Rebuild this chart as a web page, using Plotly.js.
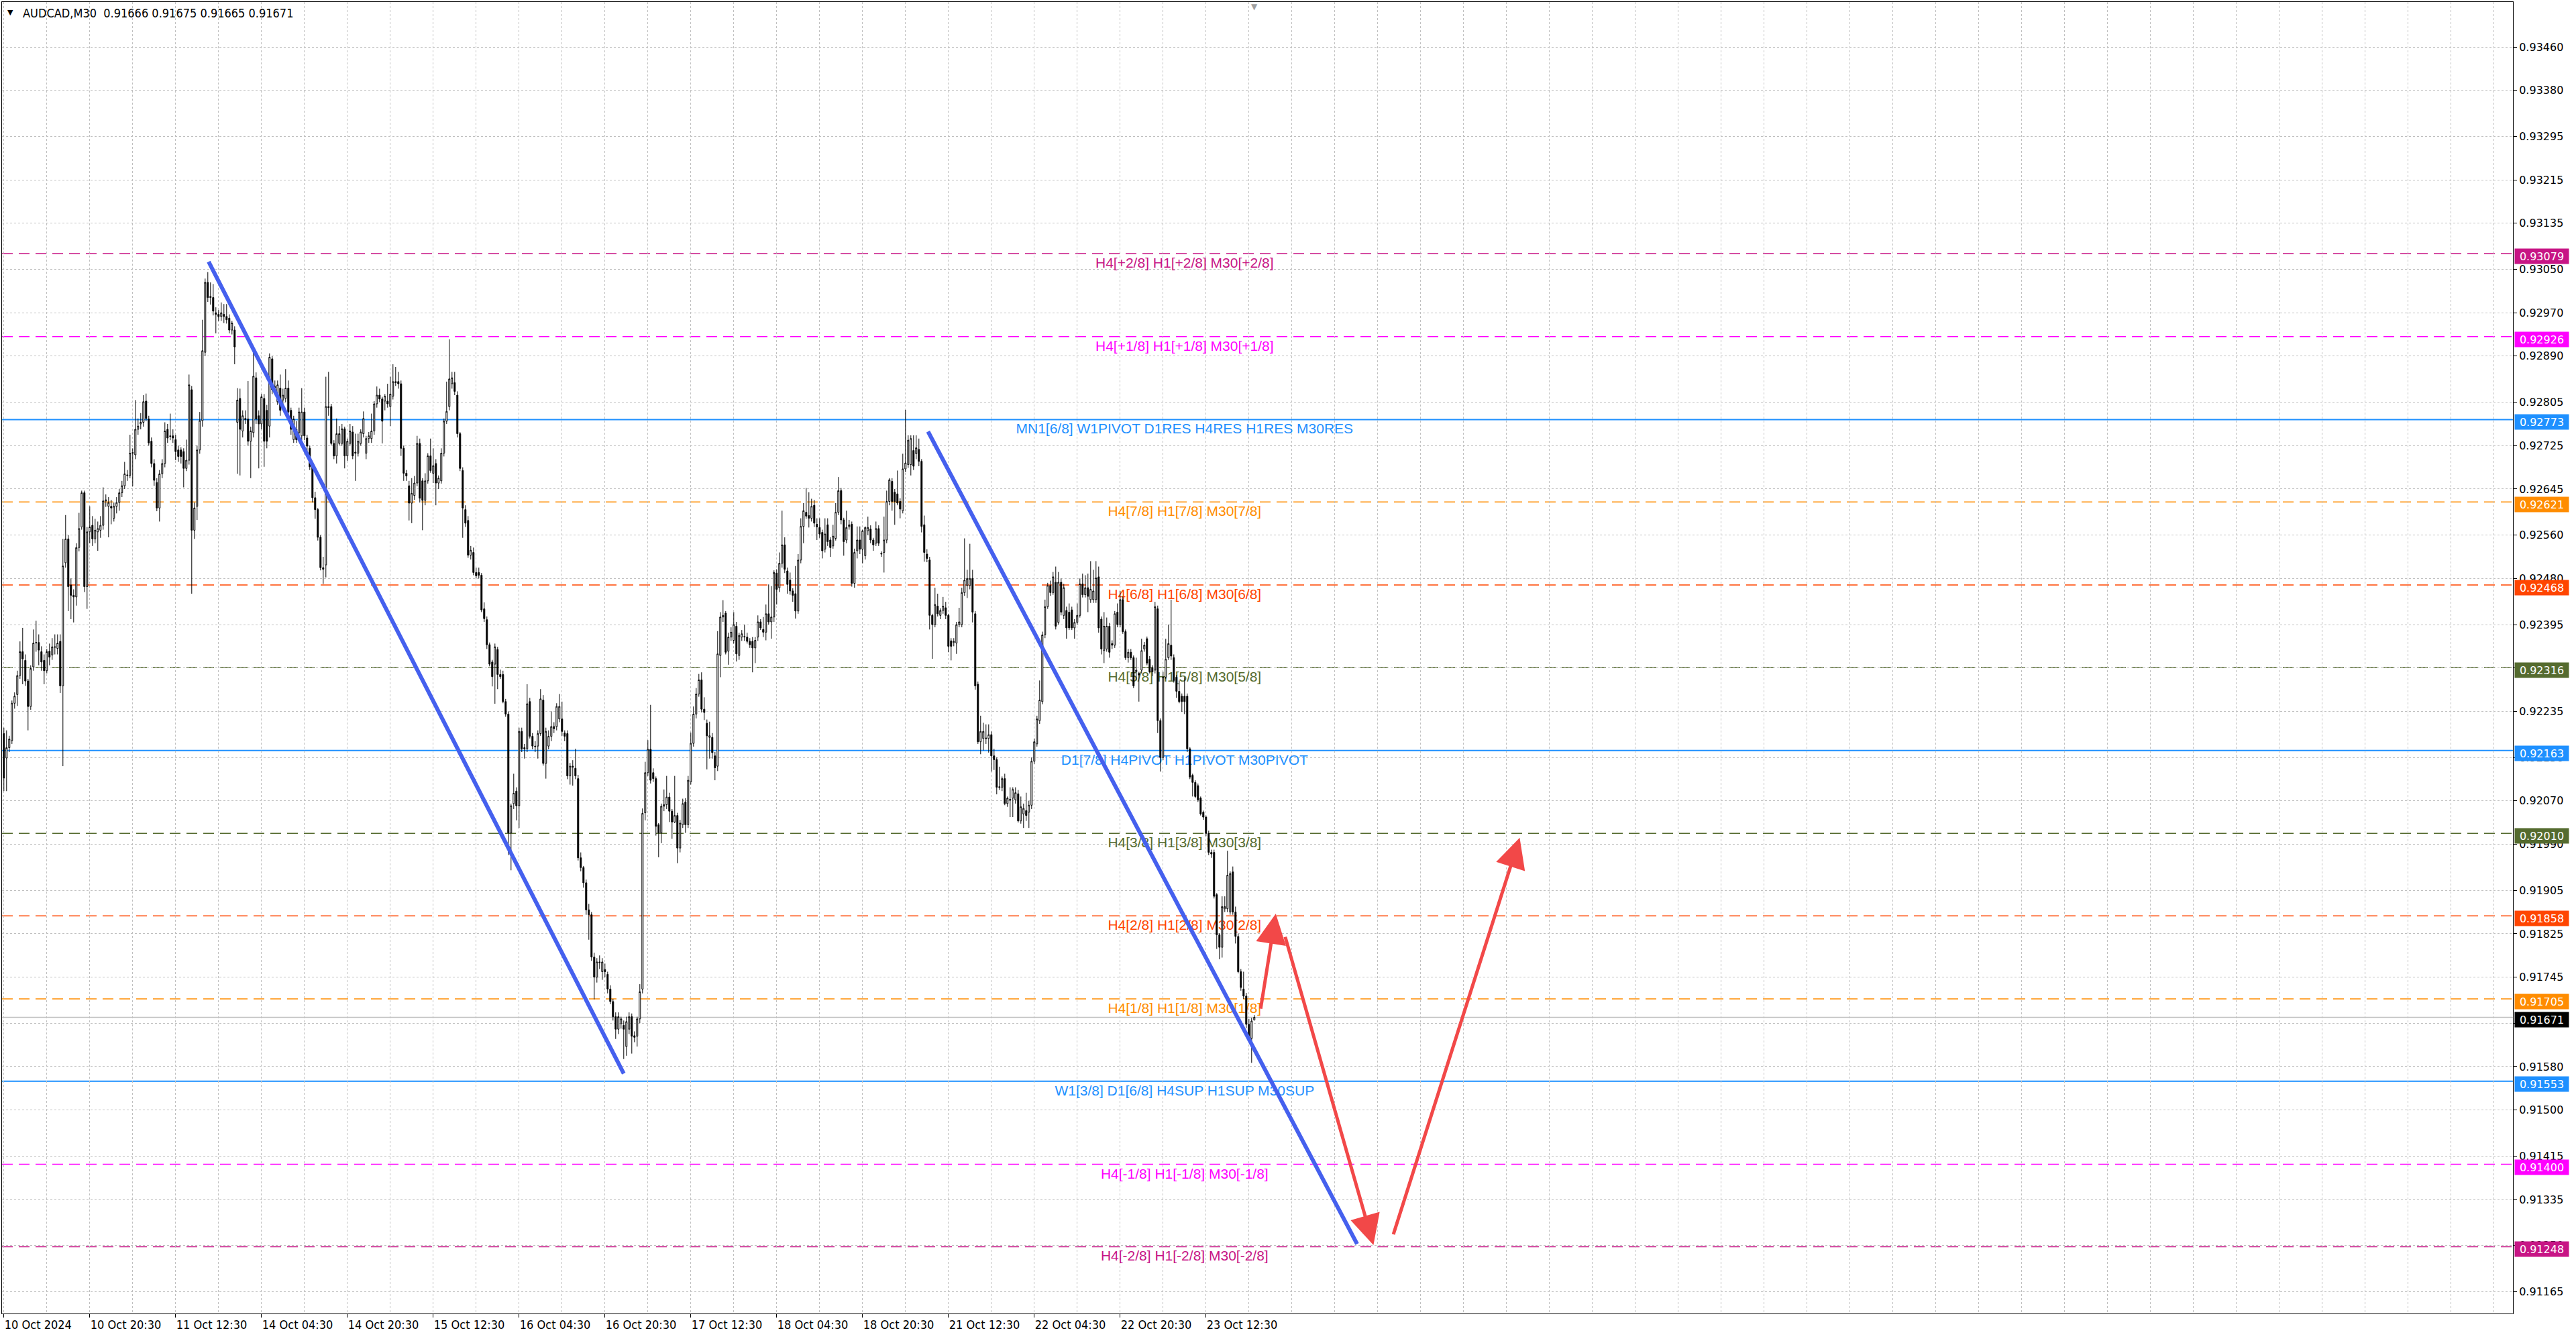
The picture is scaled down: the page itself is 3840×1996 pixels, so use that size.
<!DOCTYPE html>
<html>
<head>
<meta charset="utf-8">
<script src="https://cdn.plot.ly/plotly-3.0.1.min.js"></script>
<style>
html,body{margin:0;padding:0;background:#ffffff;overflow:hidden;}
#chart{width:3840px;height:1996px;}
</style>
</head>
<body>
<div id="chart"></div>
<script>
// ---------------- DATA ----------------
const symbol = "AUDCAD,M30";
const lastOHLC = ["0.91666", "0.91675", "0.91665", "0.91671"];

// x-axis labels, one every 32 bars (16 hours of M30 bars)
const timeLabels = ["10 Oct 2024", "10 Oct 20:30", "11 Oct 12:30", "14 Oct 04:30", "14 Oct 20:30",
  "15 Oct 12:30", "16 Oct 04:30", "16 Oct 20:30", "17 Oct 12:30", "18 Oct 04:30", "18 Oct 20:30",
  "21 Oct 12:30", "22 Oct 04:30", "22 Oct 20:30", "23 Oct 12:30"];

// price-scale labels
const yTickLabels = ["0.93460", "0.93380", "0.93295", "0.93215", "0.93135", "0.93050", "0.92970",
  "0.92890", "0.92805", "0.92725", "0.92645", "0.92560", "0.92480", "0.92395", "0.92315", "0.92235",
  "0.92150", "0.92070", "0.91990", "0.91905", "0.91825", "0.91745", "0.91660", "0.91580", "0.91500",
  "0.91415", "0.91335", "0.91250", "0.91165"];

// OHLC of each M30 bar, in units of 0.00001
const openP = [92194,92149,92168,92181,92250,92266,92301,92345,92329,92291,
92244,92317,92361,92362,92345,92329,92310,92346,92339,92353,
92351,92364,92282,92509,92553,92468,92449,92446,92537,92575,
92638,92465,92566,92578,92553,92566,92569,92578,92623,92613,
92613,92591,92613,92620,92638,92651,92671,92670,92711,92708,
92755,92765,92768,92807,92774,92733,92692,92657,92610,92673,
92692,92755,92743,92743,92736,92717,92717,92714,92683,92698,
92828,92569,92613,92717,92771,92897,93026,93000,92998,92970,
92967,92963,92967,92963,92960,92938,92938,92768,92812,92752,
92775,92774,92733,92749,92850,92780,92765,92812,92790,92761,
92885,92834,92806,92831,92809,92812,92831,92790,92736,92755,
92749,92743,92787,92739,92720,92686,92629,92607,92556,92500,
92505,92797,92797,92729,92706,92729,92729,92756,92706,92729,
92750,92713,92711,92729,92747,92711,92738,92738,92752,92802,
92818,92811,92807,92807,92797,92816,92843,92843,92839,92720,
92674,92651,92619,92633,92656,92729,92660,92624,92660,92706,
92674,92692,92656,92660,92711,92770,92797,92839,92841,92818,
92747,92679,92607,92587,92523,92528,92491,92491,92486,92424,
92404,92358,92326,92322,92349,92303,92303,92253,92230,92011,
92065,92088,92061,92198,92168,92166,92253,92189,92171,92171,
92194,92256,92139,92171,92189,92207,92207,92221,92221,92195,
92194,92116,92134,92130,92111,91965,91947,91919,91869,91860,
91782,91745,91773,91755,91759,91750,91723,91700,91672,91649,
91659,91656,91617,91649,91672,91637,91636,91668,91723,92048,
92122,92165,92122,92111,92026,92011,92060,92063,92077,92051,
92031,92043,91983,92026,92068,92026,92105,92176,92230,92267,
92293,92239,92213,92187,92187,92153,92134,92338,92409,92416,
92346,92372,92366,92392,92338,92372,92372,92372,92364,92364,
92352,92372,92400,92386,92381,92415,92400,92409,92490,92463,
92508,92542,92494,92477,92457,92452,92420,92514,92576,92602,
92596,92591,92615,92580,92574,92565,92534,92579,92551,92540,
92554,92602,92642,92588,92551,92575,92580,92471,92531,92551,
92534,92522,92568,92571,92551,92545,92572,92525,92528,92551,
92622,92659,92639,92636,92622,92605,92682,92690,92690,92716,
92710,92718,92696,92579,92525,92514,92412,92395,92429,92412,
92421,92426,92412,92365,92362,92361,92395,92395,92454,92467,
92467,92480,92415,92285,92179,92185,92186,92185,92192,92153,
92146,92096,92095,92111,92065,92073,92075,92072,92083,92033,
92046,92052,92049,92062,92143,92175,92218,92253,92376,92428,
92467,92454,92473,92399,92473,92412,92421,92418,92422,92389,
92399,92412,92470,92450,92463,92441,92441,92441,92483,92405,
92347,92350,92392,92360,92357,92418,92395,92441,92382,92334,
92344,92334,92308,92305,92311,92350,92369,92331,92315,92311,
92424,92218,92150,92298,92334,92357,92334,92298,92272,92263,
92263,92263,92166,92117,92104,92098,92075,92049,92040,92010,
91975,91975,91897,91823,91800,91871,91871,91865,91939,91865,
91820,91755,91723,91710,91658,91632,91666];

const highP = [92205,92200,92190,92255,92270,92310,92364,92389,92340,92295,
92320,92386,92402,92377,92355,92340,92350,92360,92370,92377,
92377,92377,92553,92597,92560,92480,92460,92545,92601,92642,
92642,92575,92613,92595,92590,92585,92595,92648,92635,92630,
92625,92620,92630,92645,92660,92695,92680,92745,92720,92809,
92775,92785,92818,92821,92780,92740,92700,92665,92680,92700,
92768,92765,92784,92755,92745,92725,92722,92720,92736,92856,
92835,92620,92725,92787,92957,93033,93045,93026,93023,92980,
92975,92989,92986,92986,92967,92955,92945,92831,92830,92790,
92790,92844,92760,92897,92860,92790,92820,92820,92800,92895,
92890,92845,92845,92856,92830,92866,92845,92795,92780,92770,
92795,92831,92795,92745,92725,92690,92640,92610,92560,92520,
92852,92861,92802,92735,92775,92761,92765,92760,92738,92765,
92761,92747,92747,92755,92788,92743,92750,92784,92807,92834,
92830,92815,92820,92839,92852,92875,92870,92861,92845,92725,
92680,92660,92665,92669,92743,92738,92665,92674,92711,92738,
92720,92700,92670,92720,92775,92843,92921,92861,92861,92825,
92750,92685,92615,92595,92540,92537,92500,92500,92490,92436,
92410,92362,92330,92360,92354,92312,92310,92258,92235,92065,
92120,92095,92205,92205,92175,92285,92260,92195,92180,92200,
92276,92265,92205,92200,92235,92215,92250,92267,92253,92200,
92200,92140,92145,92166,92118,91975,91950,91925,91880,91865,
91790,91780,91785,91780,91770,91755,91730,91705,91680,91680,
91672,91665,91672,91680,91678,91645,91672,91732,92056,92142,
92182,92247,92130,92115,92029,92065,92091,92116,92085,92055,
92116,92048,92035,92074,92075,92116,92196,92244,92278,92304,
92307,92261,92220,92216,92195,92160,92383,92418,92440,92420,
92380,92390,92418,92400,92380,92385,92395,92380,92370,92372,
92372,92412,92405,92409,92432,92469,92466,92495,92497,92528,
92605,92556,92500,92491,92462,92503,92525,92591,92619,92647,
92639,92627,92625,92591,92591,92570,92591,92591,92556,92579,
92619,92667,92647,92592,92605,92588,92585,92535,92576,92576,
92570,92576,92594,92578,92555,92585,92578,92530,92594,92642,
92665,92665,92645,92679,92628,92710,92791,92744,92744,92744,
92744,92738,92700,92596,92534,92520,92415,92463,92452,92425,
92446,92437,92415,92370,92370,92400,92426,92463,92554,92496,
92544,92496,92420,92290,92227,92214,92211,92211,92198,92166,
92150,92133,92115,92120,92078,92095,92095,92095,92090,92078,
92065,92085,92070,92150,92185,92227,92292,92382,92441,92472,
92476,92492,92502,92492,92480,92470,92428,92434,92428,92405,
92434,92480,92489,92486,92489,92512,92496,92512,92502,92410,
92418,92408,92398,92366,92420,92434,92457,92447,92386,92350,
92350,92338,92334,92308,92369,92363,92373,92337,92320,92437,
92430,92222,92308,92369,92395,92441,92340,92302,92292,92268,
92298,92268,92169,92120,92108,92102,92078,92052,92043,92015,
91980,91980,91900,91826,91894,91894,91978,91940,91949,91875,
91825,91760,91755,91716,91668,91670,91675];

const lowP = [92088,92088,92160,92175,92240,92245,92295,92285,92282,92200,
92238,92310,92345,92320,92310,92285,92305,92320,92330,92340,
92340,92269,92134,92500,92420,92405,92399,92430,92530,92570,
92455,92424,92545,92540,92545,92531,92555,92570,92612,92556,
92580,92585,92600,92605,92630,92645,92660,92665,92650,92700,
92745,92755,92760,92770,92725,92685,92651,92604,92585,92665,
92685,92730,92735,92730,92698,92695,92692,92648,92678,92690,
92452,92553,92588,92710,92760,92890,92990,92985,92965,92932,
92955,92955,92951,92950,92932,92930,92875,92673,92670,92740,
92765,92725,92665,92740,92765,92683,92755,92686,92720,92740,
92820,92820,92800,92780,92800,92805,92780,92745,92730,92730,
92740,92735,92735,92715,92680,92620,92590,92550,92495,92470,
92482,92780,92725,92700,92692,92725,92725,92683,92697,92725,
92700,92660,92705,92725,92740,92700,92730,92730,92745,92795,
92805,92729,92790,92795,92761,92810,92835,92830,92706,92660,
92660,92587,92582,92625,92650,92620,92569,92615,92655,92675,
92656,92615,92645,92655,92705,92765,92790,92830,92818,92740,
92678,92555,92575,92518,92515,92486,92480,92480,92418,92400,
92350,92318,92281,92249,92276,92295,92250,92225,91970,91942,
92055,92034,92020,92160,92148,92160,92185,92165,92160,92148,
92190,92135,92111,92165,92180,92195,92200,92215,92190,92180,
92110,92100,92098,92110,91960,91940,91910,91860,91814,91775,
91704,91735,91760,91740,91745,91715,91695,91665,91631,91640,
91650,91594,91600,91640,91604,91625,91617,91660,91715,92034,
92116,92102,92105,92006,91966,91992,92051,92055,92031,92000,
92029,91955,91975,92020,92011,92020,92100,92170,92222,92262,
92233,92219,92128,92148,92148,92108,92125,92298,92400,92340,
92321,92365,92360,92327,92330,92365,92365,92360,92352,92307,
92324,92365,92385,92372,92366,92395,92369,92400,92432,92455,
92500,92490,92452,92450,92437,92406,92415,92508,92545,92590,
92574,92585,92575,92551,92555,92517,92528,92540,92520,92535,
92550,92597,92580,92522,92545,92570,92465,92463,92517,92525,
92508,92515,92560,92545,92531,92540,92540,92520,92491,92545,
92615,92605,92579,92615,92591,92600,92676,92684,92670,92680,
92700,92687,92565,92511,92510,92386,92332,92390,92410,92405,
92415,92405,92344,92329,92355,92341,92390,92390,92448,92444,
92460,92399,92275,92175,92156,92163,92175,92159,92124,92127,
92082,92090,92088,92062,92059,92040,92040,92065,92030,92028,
92020,92033,92020,92055,92138,92170,92212,92248,92370,92424,
92448,92450,92386,92395,92412,92405,92369,92385,92385,92369,
92395,92408,92445,92445,92418,92435,92435,92435,92380,92340,
92324,92345,92334,92350,92352,92390,92390,92378,92330,92325,
92330,92278,92292,92253,92305,92345,92320,92305,92300,92305,
92195,92124,92145,92295,92330,92330,92288,92260,92250,92234,
92230,92160,92110,92078,92075,92068,92043,92035,92005,91970,
91965,91890,91797,91778,91781,91865,91865,91860,91860,91807,
91752,91720,91705,91651,91628,91587,91665];

const closeP = [92112,92168,92184,92250,92263,92301,92345,92332,92291,92244,
92314,92361,92362,92348,92326,92310,92345,92335,92354,92354,
92361,92282,92503,92553,92465,92449,92446,92537,92572,92638,
92465,92566,92575,92553,92569,92572,92578,92623,92625,92620,
92610,92613,92620,92638,92651,92673,92670,92711,92712,92755,
92761,92768,92806,92775,92730,92692,92661,92610,92673,92692,
92752,92739,92742,92739,92714,92705,92705,92683,92698,92837,
92569,92610,92717,92771,92900,93026,92998,92998,92973,92967,
92963,92970,92963,92957,92938,92951,92907,92809,92755,92780,
92773,92733,92752,92853,92774,92765,92815,92733,92733,92888,
92828,92832,92837,92790,92818,92831,92787,92755,92774,92736,
92787,92787,92743,92724,92686,92629,92607,92556,92500,92497,
92797,92795,92729,92706,92747,92747,92756,92706,92733,92752,
92706,92711,92733,92750,92775,92738,92743,92752,92802,92818,
92811,92770,92816,92802,92820,92843,92841,92839,92720,92674,
92669,92619,92637,92656,92729,92628,92624,92660,92706,92679,
92688,92656,92665,92711,92770,92788,92848,92850,92825,92747,
92683,92610,92582,92523,92532,92491,92485,92486,92422,92406,
92358,92322,92299,92354,92303,92299,92253,92230,92011,92061,
92084,92061,92198,92166,92166,92249,92189,92171,92170,92194,
92258,92139,92198,92189,92207,92203,92244,92244,92198,92189,
92116,92134,92132,92116,91965,91947,91919,91869,91860,91782,
91745,91773,91772,91773,91755,91723,91700,91672,91649,91672,
91668,91649,91663,91672,91636,91634,91668,91718,92047,92122,
92165,92108,92111,92023,92011,92060,92063,92077,92051,92031,
92043,91983,92029,92065,92026,92108,92176,92230,92267,92293,
92239,92233,92190,92190,92159,92131,92341,92409,92412,92344,
92372,92381,92395,92341,92375,92378,92373,92364,92358,92352,
92366,92400,92389,92381,92415,92400,92409,92491,92460,92508,
92542,92497,92469,92457,92449,92420,92514,92576,92605,92595,
92591,92613,92582,92575,92562,92531,92562,92548,92537,92558,
92602,92642,92588,92548,92574,92579,92471,92528,92551,92534,
92568,92574,92574,92551,92542,92572,92545,92526,92551,92622,
92662,92622,92622,92619,92608,92682,92693,92735,92738,92687,
92721,92696,92576,92528,92517,92412,92395,92432,92415,92421,
92429,92412,92355,92355,92364,92395,92400,92454,92477,92480,
92480,92418,92282,92179,92198,92198,92185,92192,92153,92146,
92095,92095,92111,92065,92075,92071,92091,92085,92033,92059,
92056,92043,92062,92143,92179,92221,92256,92376,92428,92467,
92454,92483,92392,92473,92418,92463,92389,92389,92389,92399,
92412,92470,92450,92463,92447,92460,92457,92481,92389,92350,
92392,92392,92344,92357,92415,92395,92441,92382,92334,92344,
92334,92282,92311,92302,92347,92357,92324,92308,92308,92428,
92218,92150,92298,92331,92360,92337,92292,92272,92253,92253,
92253,92166,92114,92104,92078,92072,92046,92040,92010,91975,
91972,91894,91823,91800,91875,91875,91933,91936,91865,91820,
91755,91726,91710,91658,91632,91664,91671];

// Murrey / pivot levels
const levelPrices = [0.93079, 0.92926, 0.92773, 0.92621, 0.92468, 0.92316, 0.92163,
  0.92010, 0.91858, 0.91705, 0.91553, 0.91400, 0.91248];
const levelNames = ["H4[+2/8] H1[+2/8] M30[+2/8]", "H4[+1/8] H1[+1/8] M30[+1/8]",
  "MN1[6/8] W1PIVOT D1RES H4RES H1RES M30RES", "H4[7/8] H1[7/8] M30[7/8]",
  "H4[6/8] H1[6/8] M30[6/8]", "H4[5/8] H1[5/8] M30[5/8]", "D1[7/8] H4PIVOT H1PIVOT M30PIVOT",
  "H4[3/8] H1[3/8] M30[3/8]", "H4[2/8] H1[2/8] M30[2/8]", "H4[1/8] H1[1/8] M30[1/8]",
  "W1[3/8] D1[6/8] H4SUP H1SUP M30SUP", "H4[-1/8] H1[-1/8] M30[-1/8]", "H4[-2/8] H1[-2/8] M30[-2/8]"];

// drawn trend lines (bar index, price)
const trendAX = [76.3, 231.0];
const trendAY = [0.93064, 0.91567];
const trendBX = [344.4, 504.3];
const trendBY = [0.92751, 0.91253];

// drawn red arrows: tail -> head (bar index, price)
const arrowTailX = [468.3, 477.4, 517.7];
const arrowTailY = [0.91685, 0.91821, 0.91269];
const arrowHeadX = [474.0, 510.4, 564.9];
const arrowHeadY = [0.91862, 0.91251, 0.92002];

// ---------------- STYLE ----------------
const levelColors = ["#C71585", "#FF00FF", "#1E90FF", "#FF8C00", "#FF4500", "#556B2F", "#1E90FF",
  "#556B2F", "#FF4500", "#FF8C00", "#1E90FF", "#FF00FF", "#C71585"];
const levelSolid = [false, false, true, false, false, false, true, false, false, false, true, false, false];
const LABEL_X = 440;
const TREND_COLOR = "#4560EE";
const ARROW_COLOR = "#F24848";
const GRID = "#C0C0C0";
const COND = "DejaVu Sans Condensed, Liberation Sans Narrow, Roboto Condensed, DejaVu Sans, sans-serif";
const AXISF = "DejaVu Sans, Verdana, sans-serif";
const LABF = "Liberation Sans, Arial, sans-serif";

// ---------------- BUILD ----------------
const sc = v => v / 100000;
const idx = openP.map((_, i) => i);
const lastClose = sc(closeP[closeP.length - 1]);

const traces = [{
  type: "candlestick", x: idx,
  open: openP.map(sc), high: highP.map(sc), low: lowP.map(sc), close: closeP.map(sc),
  increasing: {line: {color: "#000000", width: 1}, fillcolor: "#FFFFFF"},
  decreasing: {line: {color: "#000000", width: 1}, fillcolor: "#000000"},
  whiskerwidth: 0, hoverinfo: "skip", showlegend: false
}, {
  type: "scatter", mode: "lines", x: trendAX, y: trendAY,
  line: {color: TREND_COLOR, width: 6}, hoverinfo: "skip", showlegend: false
}, {
  type: "scatter", mode: "lines", x: trendBX, y: trendBY,
  line: {color: TREND_COLOR, width: 6}, hoverinfo: "skip", showlegend: false
}];

const shapes = [];
const annotations = [];

levelPrices.forEach((p, k) => {
  shapes.push({type: "line", xref: "paper", x0: 0, x1: 1, yref: "y", y0: p, y1: p, layer: "between",
    line: {color: levelColors[k], width: levelSolid[k] ? 2 : 1.5, dash: levelSolid[k] ? "solid" : "16px,9px"}});
  shapes.push({type: "line", xref: "x", x0: LABEL_X - 40, x1: LABEL_X + 40, yref: "y", y0: p, y1: p,
    layer: "between", line: {color: "rgba(0,0,0,0)", width: 1},
    label: {text: levelNames[k], textposition: "middle", yanchor: "top", padding: 0,
      font: {family: LABF, size: 21, color: levelColors[k]}}});
  annotations.push({xref: "paper", x: 1, xanchor: "left", xshift: 2, yref: "y", y: p, yanchor: "middle",
    yshift: -4, text: p.toFixed(5), showarrow: false, bgcolor: levelColors[k], width: 78, height: 20,
    borderpad: 1, align: "center", font: {family: AXISF, size: 16, color: "#FFFFFF"}});
});

// current price line and label
shapes.push({type: "line", xref: "paper", x0: 0, x1: 1, yref: "y", y0: lastClose, y1: lastClose,
  layer: "between", line: {color: "#C0C0C0", width: 1.5}});
annotations.push({xref: "paper", x: 1, xanchor: "left", xshift: 2, yref: "y", y: lastClose, yanchor: "middle",
  yshift: -4, text: lastClose.toFixed(5), showarrow: false, bgcolor: "#000000", width: 78, height: 20,
  borderpad: 1, align: "center", font: {family: AXISF, size: 16, color: "#FFFFFF"}});

// arrows
arrowTailX.forEach((_, k) => {
  annotations.push({xref: "x", yref: "y", axref: "x", ayref: "y",
    x: arrowHeadX[k], y: arrowHeadY[k], ax: arrowTailX[k], ay: arrowTailY[k],
    text: "", showarrow: true, arrowhead: 2, arrowsize: 1.8, arrowwidth: 5, arrowcolor: ARROW_COLOR});
});

// header
annotations.push({xref: "paper", yref: "paper", x: 0, y: 1, xanchor: "left", yanchor: "top", xshift: 6, yshift: -7,
  text: "\u25BC", showarrow: false, font: {family: AXISF, size: 11, color: "#000000"}});
annotations.push({xref: "paper", yref: "paper", x: 0, y: 1, xanchor: "left", yanchor: "top", xshift: 29, yshift: -4,
  text: symbol + "\u00A0\u00A0" + lastOHLC.join(" "), showarrow: false,
  font: {family: COND, size: 18, color: "#000000"}});
// chart-shift marker
annotations.push({xref: "x", yref: "paper", x: idx[idx.length - 1], y: 1, xanchor: "center", yanchor: "top",
  yshift: 2, text: "\u25BC", showarrow: false, font: {family: AXISF, size: 12, color: "#A0A0A0"}});

const layout = {
  width: 3840, height: 1996,
  margin: {l: 3, r: 94, t: 3, b: 38, pad: 0},
  paper_bgcolor: "#FFFFFF", plot_bgcolor: "#FFFFFF",
  showlegend: false, hovermode: false, dragmode: false,
  xaxis: {
    range: [-0.7, 935.05], autorange: false, fixedrange: true,
    rangeslider: {visible: false},
    tickmode: "array", tickvals: timeLabels.map((_, k) => k * 32), ticktext: timeLabels,
    ticks: "outside", ticklen: 5, tickwidth: 1, tickcolor: "#000000",
    ticklabelposition: "outside right",
    tickfont: {family: COND, size: 18, color: "#000000"},
    showgrid: true, gridcolor: GRID, gridwidth: 1, griddash: "3px,3px",
    minor: {tickmode: "linear", tick0: 0, dtick: 16, showgrid: true, gridcolor: GRID, gridwidth: 1,
      griddash: "3px,3px", ticks: ""},
    showline: true, linecolor: "#000000", linewidth: 1, mirror: true,
    zeroline: false, automargin: false
  },
  yaxis: {
    range: [0.911248, 0.935429], autorange: false, fixedrange: true, side: "right",
    tickmode: "array", tickvals: yTickLabels.map(Number), ticktext: yTickLabels,
    ticks: "outside", ticklen: 5, tickwidth: 1, tickcolor: "#000000",
    tickfont: {family: AXISF, size: 16, color: "#000000"},
    showgrid: true, gridcolor: GRID, gridwidth: 1, griddash: "3px,3px",
    showline: true, linecolor: "#000000", linewidth: 1, mirror: true,
    zeroline: false, automargin: false
  },
  shapes: shapes,
  annotations: annotations
};

Plotly.newPlot("chart", traces, layout, {staticPlot: true, displayModeBar: false});
</script>
</body>
</html>
